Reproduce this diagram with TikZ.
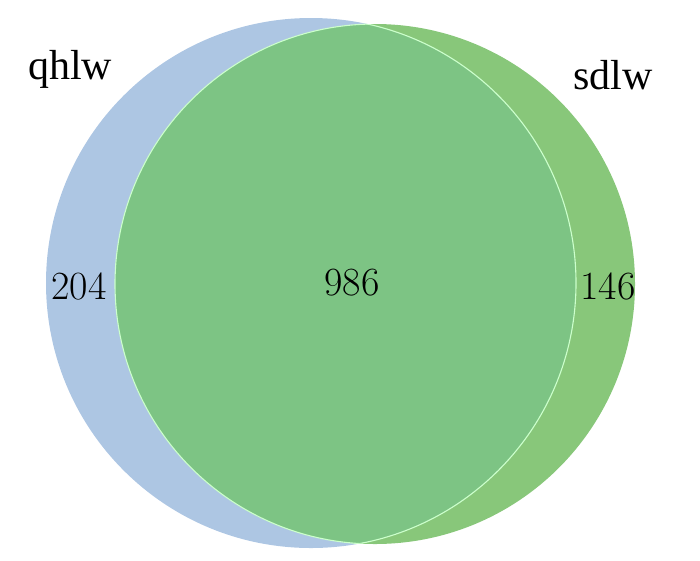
\documentclass[tikz,border=0pt]{standalone}
\usepackage{fontspec}
\newfontfamily\labelfont{Liberation Serif}
\definecolor{qblue}{HTML}{ADC6E3}
\definecolor{sgreen}{HTML}{88C77A}
\definecolor{igreen}{HTML}{7DC484}
\begin{document}
\begin{tikzpicture}[x=1pt,y=-1pt,
  setlabel/.style={font=\labelfont\fontsize{42}{46}\selectfont, anchor=base},
  countlabel/.style={font=\fontsize{40}{44}\selectfont, anchor=base}]
\useasboundingbox (0,0) rectangle (700,560);
\coordinate (cq) at (311,283);
\coordinate (cs) at (375,284);
\fill[qblue] (cq) circle (265);
\fill[sgreen] (cs) circle (260);
\begin{scope}
  \clip (cq) circle (265);
  \fill[igreen] (cs) circle (260);
\end{scope}
\begin{scope}
  \clip (cq) circle (265);
  \draw[white!80!green, line width=1.1pt] (cs) circle (260);
\end{scope}
\begin{scope}
  \clip (cs) circle (260);
  \draw[white!80!green, line width=1.1pt] (cq) circle (265);
\end{scope}
\node[setlabel] (lq) at (70,79) {qhlw};
\node[setlabel] (ls) at (613,89) {sdlw};
\node[countlabel] (nq) at (79,299) {204};
\node[countlabel] (ni) at (352,295) {986};
\node[countlabel] (ns) at (608,299) {146};
\end{tikzpicture}
\end{document}
